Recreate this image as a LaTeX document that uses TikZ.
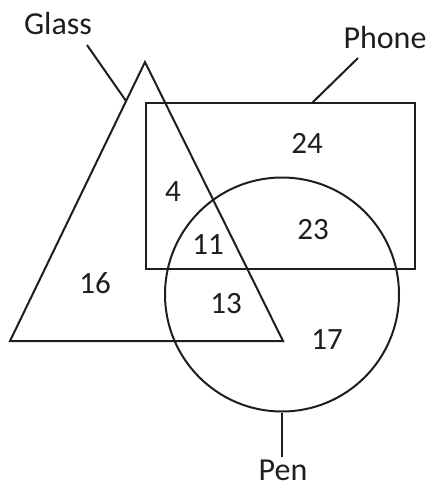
\documentclass[tikz,border=0pt]{standalone}
\usepackage{fontspec}
\setmainfont{Carlito}
\usepackage{tikz}
\usetikzlibrary{positioning, calc}
\definecolor{inkgrey}{RGB}{30, 30, 30}

\begin{document}
\begin{tikzpicture}[
    x=1pt, y=-1pt,
    outline/.style={draw=inkgrey, line width=2pt},
    setname/.style={font=\fontsize{32}{36}\selectfont, text=inkgrey, inner sep=0pt},
    count/.style={font=\fontsize{31}{35}\selectfont, text=inkgrey, inner sep=0pt}
]
    \useasboundingbox (0,0) rectangle (430,490);
    % sets
    \coordinate (apex) at (145,62);
    \coordinate (baseleft) at (10,341);
    \coordinate (baseright) at (283,341);
    \draw[outline, line join=miter] (apex) -- (baseleft) -- (baseright) -- cycle;
    \node[outline, minimum width=269pt, minimum height=166pt] (phone) at (280.5,186) {};
    \node[outline, circle, minimum size=234pt, inner sep=0pt] (pen) at (282,294.5) {};

    % set labels
    \node[setname] (glasslabel) at (58,24) {Glass};
    \node[setname] (phonelabel) at (385,37) {Phone};
    \node[setname, anchor=north] (penlabel) at (283,460) {Pen};
    \coordinate (glasstip) at (87,45);
    \coordinate (glassend) at ($(apex)!0.14!(baseleft)$);
    \coordinate (phonetip) at (358,58);
    \coordinate (phoneend) at (312,103);
    \coordinate (pentip) at ($(pen.south)+(0,44)$);
    \draw[outline] (glasstip) -- (glassend);
    \draw[outline] (phonetip) -- (phoneend);
    \draw[outline] (pen.south) -- (pentip);

    % region counts
    \node[count] (n24) at (307,143) {24};
    \node[count] (n4) at (173,192) {4};
    \node[count] (n23) at (313,230) {23};
    \node[count] (n11) at (208,245) {11};
    \node[count] (n16) at (95,283) {16};
    \node[count] (n13) at (226,304) {13};
    \node[count] (n17) at (327,340) {17};
\end{tikzpicture}
\end{document}
